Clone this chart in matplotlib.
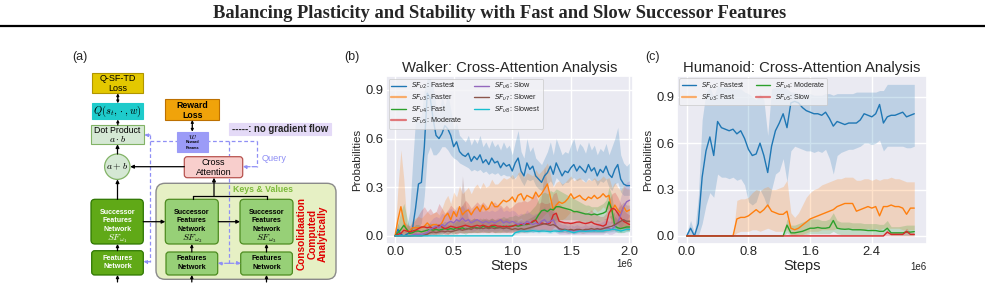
import numpy as np
import matplotlib
matplotlib.use("Agg")
import matplotlib.pyplot as plt
import seaborn as sns
from matplotlib.patches import FancyBboxPatch, Circle
from matplotlib.lines import Line2D

sns.set_theme(style="darkgrid")
plt.rcParams['font.family'] = ['Liberation Sans', 'DejaVu Sans']
plt.rcParams['mathtext.fontset'] = 'dejavusans'

# ---------------- data: Walker ----------------
walker_steps = np.linspace(0, 2.0e6, 81)
walker_labels = [r"$SF_{\upsilon2}$: Fastest", r"$SF_{\upsilon3}$: Faster", r"$SF_{\upsilon4}$: Fast",
                 r"$SF_{\upsilon5}$: Moderate", r"$SF_{\upsilon6}$: Slow", r"$SF_{\upsilon7}$: Slower",
                 r"$SF_{\upsilon8}$: Slowest"]
w_fastest = [0.00,0.04,0.01,0.00,0.01,0.02,0.05,0.17,0.32,0.33,
             0.55,0.88,0.85,0.72,0.62,0.60,0.63,0.68,0.66,0.62,
             0.55,0.58,0.52,0.50,0.49,0.51,0.46,0.49,0.47,0.50,
             0.45,0.47,0.44,0.48,0.45,0.46,0.42,0.45,0.43,0.44,
             0.40,0.45,0.48,0.40,0.37,0.45,0.41,0.43,0.37,0.35,
             0.33,0.37,0.39,0.43,0.38,0.45,0.41,0.37,0.40,0.39,
             0.42,0.44,0.40,0.43,0.41,0.39,0.44,0.40,0.42,0.37,
             0.41,0.39,0.43,0.38,0.36,0.41,0.44,0.35,0.32,0.31,
             0.31]
w_fastest_lo = [0.00,0.00,0.00,0.00,0.00,0.00,0.00,0.01,0.05,0.08,
                0.25,0.50,0.55,0.50,0.50,0.52,0.55,0.55,0.53,0.50,
                0.48,0.47,0.45,0.44,0.43,0.42,0.40,0.41,0.40,0.41,
                0.39,0.40,0.38,0.39,0.38,0.39,0.37,0.38,0.37,0.37,
                0.35,0.36,0.38,0.34,0.31,0.35,0.34,0.35,0.31,0.29,
                0.28,0.30,0.32,0.34,0.31,0.36,0.34,0.31,0.33,0.33,
                0.35,0.36,0.34,0.35,0.35,0.33,0.36,0.34,0.35,0.31,
                0.34,0.33,0.35,0.30,0.28,0.32,0.33,0.27,0.25,0.25,
                0.25]
w_fastest_hi = [0.02,0.08,0.02,0.03,0.05,0.15,0.45,0.72,0.70,0.75,
                0.90,0.97,0.97,0.92,0.80,0.75,0.86,0.80,0.88,0.78,
                0.66,0.70,0.62,0.60,0.58,0.62,0.56,0.60,0.57,0.62,
                0.55,0.58,0.54,0.59,0.55,0.57,0.53,0.58,0.54,0.56,
                0.50,0.58,0.65,0.52,0.48,0.60,0.52,0.55,0.48,0.46,
                0.44,0.48,0.52,0.58,0.50,0.60,0.55,0.50,0.52,0.51,
                0.56,0.60,0.52,0.57,0.55,0.51,0.58,0.53,0.56,0.50,
                0.54,0.52,0.57,0.50,0.55,0.60,0.67,0.50,0.45,0.43,
                0.45]
w_faster = [0.00,0.10,0.18,0.09,0.03,0.03,0.05,0.05,0.05,0.05,
            0.06,0.08,0.06,0.07,0.07,0.06,0.08,0.12,0.14,0.10,
            0.15,0.12,0.18,0.13,0.15,0.16,0.13,0.16,0.18,0.15,
            0.19,0.16,0.17,0.21,0.18,0.18,0.20,0.22,0.21,0.22,
            0.24,0.21,0.25,0.26,0.22,0.25,0.24,0.23,0.27,0.24,
            0.26,0.29,0.32,0.24,0.16,0.19,0.21,0.20,0.21,0.23,
            0.26,0.23,0.24,0.25,0.23,0.22,0.24,0.23,0.25,0.23,
            0.24,0.26,0.24,0.25,0.15,0.19,0.16,0.14,0.18,0.15,
            0.16]
w_faster_lo = [0.00,0.00,0.02,0.00,0.00,0.00,0.01,0.01,0.01,0.01,
               0.01,0.02,0.01,0.02,0.02,0.02,0.02,0.04,0.05,0.03,
               0.05,0.04,0.06,0.04,0.05,0.06,0.04,0.06,0.07,0.05,
               0.07,0.06,0.06,0.08,0.07,0.07,0.08,0.09,0.08,0.09,
               0.10,0.08,0.10,0.11,0.09,0.10,0.10,0.09,0.11,0.10,
               0.11,0.13,0.15,0.10,0.06,0.08,0.10,0.10,0.11,0.13,
               0.15,0.14,0.15,0.16,0.15,0.14,0.16,0.15,0.17,0.15,
               0.16,0.18,0.16,0.17,0.04,0.06,0.04,0.02,0.05,0.03,
               0.04]
w_faster_hi = [0.01,0.30,0.53,0.35,0.08,0.06,0.10,0.11,0.12,0.11,
               0.13,0.15,0.13,0.14,0.15,0.13,0.17,0.22,0.25,0.20,
               0.27,0.24,0.31,0.26,0.28,0.30,0.26,0.30,0.32,0.29,
               0.33,0.30,0.31,0.35,0.32,0.32,0.34,0.36,0.35,0.36,
               0.38,0.35,0.39,0.40,0.36,0.39,0.38,0.37,0.41,0.38,
               0.40,0.42,0.45,0.38,0.30,0.33,0.34,0.32,0.33,0.35,
               0.37,0.34,0.35,0.36,0.34,0.33,0.35,0.34,0.36,0.34,
               0.35,0.37,0.35,0.36,0.30,0.33,0.30,0.28,0.31,0.29,
               0.29]
w_fast = [0.00,0.02,0.04,0.065,0.04,0.015,0.02,0.03,0.03,0.025,
          0.03,0.035,0.04,0.035,0.04,0.035,0.04,0.045,0.04,0.045,
          0.04,0.05,0.045,0.05,0.04,0.045,0.05,0.055,0.05,0.045,
          0.06,0.055,0.05,0.06,0.055,0.05,0.055,0.06,0.055,0.06,
          0.06,0.065,0.06,0.065,0.07,0.07,0.075,0.085,0.10,0.13,
          0.155,0.16,0.15,0.165,0.16,0.18,0.18,0.175,0.17,0.165,
          0.16,0.15,0.15,0.145,0.14,0.135,0.135,0.13,0.135,0.13,
          0.135,0.14,0.15,0.21,0.16,0.06,0.05,0.045,0.05,0.055,
          0.055]
w_fast_lo = [0.00,0.00,0.01,0.02,0.01,0.00,0.00,0.01,0.01,0.01,
             0.01,0.01,0.01,0.01,0.01,0.01,0.01,0.02,0.01,0.02,
             0.01,0.02,0.02,0.02,0.01,0.02,0.02,0.02,0.02,0.02,
             0.03,0.02,0.02,0.03,0.02,0.02,0.02,0.03,0.02,0.03,
             0.03,0.03,0.03,0.03,0.04,0.04,0.04,0.05,0.06,0.07,
             0.08,0.09,0.08,0.09,0.09,0.10,0.10,0.10,0.10,0.10,
             0.10,0.10,0.10,0.09,0.09,0.09,0.09,0.09,0.09,0.09,
             0.09,0.10,0.10,0.12,0.10,0.03,0.02,0.02,0.02,0.03,
             0.03]
w_fast_hi = [0.00,0.08,0.15,0.20,0.12,0.05,0.05,0.07,0.07,0.06,
             0.07,0.07,0.08,0.07,0.08,0.07,0.08,0.09,0.08,0.09,
             0.08,0.10,0.09,0.10,0.08,0.09,0.10,0.11,0.10,0.09,
             0.11,0.10,0.10,0.11,0.10,0.10,0.11,0.12,0.11,0.12,
             0.12,0.13,0.12,0.13,0.14,0.14,0.15,0.17,0.19,0.23,
             0.26,0.27,0.26,0.28,0.27,0.29,0.28,0.27,0.26,0.25,
             0.24,0.23,0.22,0.21,0.20,0.19,0.19,0.18,0.18,0.18,
             0.19,0.20,0.22,0.30,0.25,0.12,0.10,0.09,0.10,0.10,
             0.10]
w_moderate = [0.00,0.01,0.015,0.035,0.03,0.025,0.03,0.035,0.045,0.055,
              0.055,0.05,0.055,0.045,0.05,0.066,0.055,0.045,0.05,0.06,
              0.055,0.05,0.055,0.06,0.066,0.06,0.055,0.06,0.065,0.06,
              0.066,0.06,0.055,0.065,0.066,0.06,0.06,0.055,0.06,0.055,
              0.06,0.066,0.07,0.07,0.076,0.075,0.076,0.09,0.097,0.07,
              0.08,0.075,0.076,0.08,0.13,0.14,0.09,0.085,0.08,0.08,
              0.076,0.08,0.085,0.086,0.08,0.076,0.08,0.086,0.075,0.07,
              0.066,0.06,0.07,0.14,0.17,0.165,0.14,0.11,0.09,0.08,
              0.07]
w_moderate_lo = [0.00,0.00,0.00,0.01,0.01,0.01,0.01,0.01,0.01,0.02,
                 0.02,0.01,0.02,0.01,0.01,0.02,0.02,0.01,0.01,0.02,
                 0.02,0.01,0.02,0.02,0.02,0.02,0.02,0.02,0.02,0.02,
                 0.02,0.02,0.02,0.02,0.02,0.02,0.02,0.02,0.02,0.02,
                 0.02,0.03,0.03,0.03,0.03,0.03,0.03,0.04,0.04,0.03,
                 0.03,0.03,0.03,0.03,0.05,0.06,0.04,0.04,0.04,0.04,
                 0.04,0.04,0.04,0.04,0.04,0.04,0.04,0.04,0.04,0.03,
                 0.03,0.03,0.03,0.06,0.08,0.08,0.07,0.05,0.04,0.04,
                 0.03]
w_moderate_hi = [0.00,0.03,0.05,0.09,0.07,0.06,0.08,0.10,0.13,0.16,
                 0.18,0.15,0.17,0.14,0.15,0.20,0.17,0.14,0.16,0.19,
                 0.17,0.15,0.17,0.19,0.22,0.20,0.17,0.19,0.21,0.19,
                 0.21,0.19,0.17,0.20,0.21,0.19,0.19,0.17,0.19,0.17,
                 0.18,0.20,0.21,0.21,0.22,0.21,0.22,0.25,0.26,0.20,
                 0.21,0.20,0.20,0.21,0.26,0.27,0.20,0.18,0.17,0.16,
                 0.15,0.15,0.16,0.16,0.15,0.14,0.15,0.16,0.14,0.13,
                 0.12,0.12,0.14,0.22,0.26,0.27,0.24,0.20,0.16,0.14,
                 0.13]
w_slow = [0.00,0.00,0.00,0.00,0.00,0.00,0.005,0.01,0.01,0.01,
          0.015,0.02,0.04,0.05,0.06,0.05,0.07,0.06,0.08,0.09,
          0.08,0.10,0.09,0.11,0.09,0.10,0.08,0.09,0.10,0.09,
          0.08,0.09,0.08,0.09,0.08,0.09,0.10,0.08,0.09,0.08,
          0.09,0.08,0.07,0.08,0.07,0.09,0.08,0.07,0.08,0.07,
          0.09,0.10,0.08,0.09,0.10,0.06,0.04,0.03,0.035,0.03,
          0.035,0.03,0.035,0.03,0.03,0.035,0.03,0.035,0.03,0.04,
          0.04,0.045,0.05,0.045,0.04,0.06,0.08,0.13,0.18,0.21,
          0.22]
w_slow_lo = [0.00,0.00,0.00,0.00,0.00,0.00,0.00,0.00,0.00,0.00,
             0.00,0.00,0.01,0.01,0.02,0.01,0.02,0.02,0.03,0.03,
             0.03,0.04,0.03,0.04,0.03,0.04,0.03,0.03,0.04,0.03,
             0.03,0.03,0.03,0.03,0.03,0.03,0.04,0.03,0.03,0.03,
             0.03,0.03,0.02,0.03,0.02,0.03,0.03,0.02,0.03,0.02,
             0.03,0.04,0.03,0.03,0.04,0.02,0.01,0.01,0.01,0.01,
             0.01,0.01,0.01,0.01,0.01,0.01,0.01,0.01,0.01,0.01,
             0.01,0.01,0.02,0.01,0.01,0.02,0.03,0.05,0.08,0.10,
             0.12]
w_slow_hi = [0.00,0.00,0.00,0.00,0.00,0.01,0.02,0.03,0.03,0.03,
             0.04,0.06,0.09,0.11,0.12,0.11,0.14,0.13,0.15,0.17,
             0.15,0.18,0.17,0.19,0.16,0.18,0.15,0.16,0.18,0.16,
             0.15,0.16,0.15,0.16,0.15,0.16,0.18,0.15,0.16,0.15,
             0.16,0.15,0.13,0.14,0.13,0.16,0.14,0.13,0.14,0.13,
             0.16,0.18,0.15,0.16,0.18,0.12,0.08,0.07,0.07,0.06,
             0.07,0.06,0.07,0.06,0.06,0.07,0.06,0.07,0.06,0.08,
             0.08,0.09,0.10,0.09,0.09,0.12,0.16,0.24,0.30,0.33,
             0.34]
w_slower = [0.00,0.00,0.00,0.00,0.00,0.00,0.00,0.00,0.00,0.00,
            0.005,0.01,0.02,0.025,0.02,0.025,0.03,0.025,0.03,0.025,
            0.03,0.035,0.04,0.035,0.04,0.045,0.04,0.05,0.045,0.05,
            0.045,0.05,0.045,0.05,0.045,0.05,0.05,0.045,0.05,0.045,
            0.04,0.045,0.04,0.045,0.04,0.045,0.05,0.055,0.06,0.065,
            0.07,0.075,0.07,0.065,0.07,0.06,0.045,0.04,0.04,0.035,
            0.04,0.035,0.04,0.04,0.035,0.04,0.04,0.045,0.04,0.045,
            0.04,0.045,0.05,0.055,0.06,0.07,0.08,0.09,0.10,0.09,
            0.09]
w_slower_lo = [0.00,0.00,0.00,0.00,0.00,0.00,0.00,0.00,0.00,0.00,
               0.00,0.00,0.005,0.01,0.005,0.01,0.01,0.01,0.01,0.01,
               0.01,0.015,0.02,0.015,0.02,0.02,0.02,0.025,0.02,0.025,
               0.02,0.025,0.02,0.025,0.02,0.025,0.025,0.02,0.025,0.02,
               0.02,0.02,0.02,0.02,0.02,0.02,0.025,0.03,0.03,0.035,
               0.035,0.04,0.035,0.03,0.035,0.03,0.02,0.02,0.02,0.015,
               0.02,0.015,0.02,0.02,0.015,0.02,0.02,0.02,0.02,0.02,
               0.02,0.02,0.025,0.03,0.03,0.035,0.04,0.045,0.05,0.045,
               0.045]
w_slower_hi = [0.00,0.00,0.00,0.00,0.00,0.00,0.00,0.00,0.01,0.01,
               0.02,0.03,0.05,0.06,0.05,0.06,0.07,0.06,0.07,0.06,
               0.08,0.09,0.12,0.37,0.20,0.11,0.10,0.11,0.10,0.11,
               0.10,0.11,0.10,0.11,0.10,0.11,0.11,0.10,0.11,0.10,
               0.09,0.10,0.09,0.10,0.09,0.10,0.11,0.12,0.13,0.15,
               0.25,0.43,0.30,0.16,0.15,0.13,0.10,0.09,0.09,0.08,
               0.09,0.08,0.09,0.09,0.08,0.09,0.09,0.10,0.09,0.10,
               0.09,0.10,0.11,0.12,0.13,0.15,0.17,0.19,0.21,0.19,
               0.19]
w_slowest = [0.0]*41 + [0.02,0.025,0.03,0.03,0.028,0.03,0.032,0.03,0.028,0.03,
                        0.03,0.028,0.025,0.03,0.03,0.028,0.03,0.035,0.03,0.025,
                        0.02,0.025,0.03,0.03,0.028,0.03,0.03,0.032,0.03,0.03,
                        0.03,0.035,0.035,0.04,0.04,0.035,0.03,0.035,0.04,0.04]
w_slowest_lo = [0.0]*41 + [0.01,0.015,0.02,0.02,0.018,0.02,0.02,0.02,0.018,0.02,
                           0.02,0.018,0.015,0.02,0.02,0.018,0.02,0.022,0.02,0.015,
                           0.012,0.015,0.02,0.02,0.018,0.02,0.02,0.02,0.02,0.02,
                           0.02,0.022,0.022,0.025,0.025,0.022,0.02,0.022,0.025,0.025]
w_slowest_hi = [0.0]*41 + [0.03,0.04,0.045,0.045,0.04,0.045,0.05,0.045,0.04,0.045,
                           0.045,0.04,0.04,0.045,0.045,0.04,0.045,0.05,0.045,0.04,
                           0.03,0.04,0.045,0.045,0.04,0.045,0.045,0.05,0.045,0.045,
                           0.045,0.05,0.05,0.06,0.06,0.05,0.045,0.05,0.06,0.06]

# ---------------- data: Humanoid ----------------
hum_steps = np.linspace(0, 2.95e6, 60)
hum_labels = [r"$SF_{\upsilon2}$: Fastest", r"$SF_{\upsilon3}$: Fast",
              r"$SF_{\upsilon4}$: Moderate", r"$SF_{\upsilon5}$: Slow"]
h_fastest = [0.00,0.05,0.00,0.08,0.38,0.55,0.64,0.52,0.74,0.70,
             0.69,0.68,0.69,0.66,0.68,0.63,0.56,0.52,0.53,0.60,
             0.52,0.41,0.58,0.68,0.73,0.79,0.70,0.86,0.87,0.86,
             0.83,0.81,0.80,0.79,0.79,0.78,0.80,0.76,0.71,0.74,
             0.73,0.72,0.73,0.73,0.73,0.75,0.79,0.78,0.77,0.79,
             0.85,0.73,0.77,0.78,0.78,0.79,0.80,0.77,0.78,0.79]
h_fastest_lo = [0.00,0.00,0.00,0.00,0.08,0.20,0.28,0.25,0.40,0.38,
                0.38,0.37,0.38,0.36,0.37,0.33,0.22,0.20,0.22,0.30,
                0.25,0.18,0.30,0.40,0.42,0.50,0.35,0.55,0.58,0.57,
                0.56,0.55,0.55,0.54,0.55,0.54,0.56,0.50,0.40,0.52,
                0.54,0.55,0.56,0.56,0.57,0.58,0.60,0.60,0.59,0.60,
                0.62,0.55,0.58,0.58,0.58,0.58,0.58,0.57,0.57,0.58]
h_fastest_hi = [0.02,0.10,0.02,0.25,0.75,0.93,0.96,0.90,0.97,0.96,
                0.96,0.96,0.95,0.95,0.95,0.93,0.92,0.90,0.88,0.92,
                0.88,0.65,0.95,0.96,0.96,0.96,0.95,0.93,0.93,0.92,
                0.92,0.92,0.92,0.91,0.91,0.91,0.92,0.92,0.91,0.92,
                0.92,0.92,0.92,0.92,0.93,0.93,0.93,0.93,0.93,0.93,
                0.94,0.94,0.98,0.98,0.98,0.98,0.98,0.98,0.98,0.98]
h_fast = [0.0]*13 + [0.11,0.12,0.12,0.13,0.15,0.17,0.15,0.17,0.20,0.16,
                     0.15,0.14,0.14,0.16,0.05,0.04,0.05,0.07,0.09,0.11,
                     0.12,0.13,0.14,0.15,0.16,0.17,0.19,0.20,0.21,0.21,
                     0.21,0.16,0.17,0.18,0.19,0.18,0.19,0.13,0.19,0.19,
                     0.20,0.19,0.19,0.18,0.14,0.18,0.18]
h_fast_lo = [0.0]*13 + [0.02,0.03,0.03,0.03,0.04,0.04,0.03,0.04,0.05,0.04,
                        0.03,0.03,0.03,0.04,0.01,0.01,0.01,0.01,0.02,0.03,
                        0.03,0.03,0.04,0.04,0.04,0.04,0.05,0.05,0.05,0.05,
                        0.05,0.04,0.04,0.04,0.05,0.04,0.05,0.04,0.05,0.05,
                        0.05,0.05,0.05,0.04,0.04,0.04,0.04]
h_fast_hi = [0.0]*13 + [0.23,0.24,0.24,0.25,0.28,0.30,0.29,0.31,0.32,0.30,
                        0.30,0.31,0.32,0.36,0.15,0.12,0.15,0.20,0.25,0.28,
                        0.30,0.31,0.33,0.34,0.35,0.36,0.37,0.37,0.38,0.38,
                        0.38,0.36,0.36,0.37,0.37,0.36,0.37,0.36,0.37,0.37,
                        0.38,0.37,0.37,0.36,0.35,0.35,0.35]
h_moderate = [0.0]*26 + [0.07,0.02,0.02,0.025,0.03,0.04,0.05,0.05,0.055,0.05,
                         0.05,0.055,0.10,0.05,0.045,0.043,0.045,0.04,0.04,0.04,
                         0.038,0.035,0.035,0.035,0.03,0.03,0.05,0.02,0.02,0.02,
                         0.02,0.025,0.025,0.028]
h_moderate_lo = [0.0]*26 + [0.02,0.005,0.005,0.01,0.01,0.01,0.015,0.015,0.015,0.015,
                            0.015,0.015,0.03,0.015,0.01,0.01,0.01,0.01,0.01,0.01,
                            0.01,0.01,0.01,0.01,0.01,0.01,0.02,0.005,0.005,0.005,
                            0.005,0.005,0.005,0.005]
h_moderate_hi = [0.0]*26 + [0.11,0.07,0.07,0.08,0.09,0.10,0.11,0.11,0.11,0.10,
                            0.10,0.11,0.15,0.10,0.09,0.09,0.09,0.085,0.085,0.085,
                            0.08,0.08,0.08,0.08,0.075,0.075,0.10,0.06,0.06,0.06,
                            0.065,0.07,0.07,0.07]
h_slow = [0.0]*52 + [0.025,0.01,0.01,0.01,0.01,0.03,0.01,0.01]
h_slow_lo = [0.0]*60
h_slow_hi = [0.0]*26 + [0.01]*26 + [0.045,0.025,0.025,0.025,0.025,0.05,0.025,0.025]

colors = ['#1f77b4', '#ff7f0e', '#2ca02c', '#d62728', '#9467bd', '#8c564b', '#17becf']

# ---------------- figure ----------------
W, H = 985, 288
fig = plt.figure(figsize=(W / 100, H / 100), dpi=100)
fig.patch.set_facecolor('white')

def ax_rect(x0, y0, x1, y1):
    return [x0 / W, 1 - y1 / H, (x1 - x0) / W, (y1 - y0) / H]

# Title
fig.text(500 / W, 1 - 14 / H, "Balancing Plasticity and Stability with Fast and Slow Successor Features",
         ha='center', va='center', family=['Liberation Serif', 'DejaVu Serif'], weight='bold', fontsize=13.3)

# Diagram axes (pixel coords)
ad = fig.add_axes([0, 0, 1, 1])
ad.set_xlim(0, W)
ad.set_ylim(H, 0)
ad.axis('off')
ad.set_zorder(0)
ad.plot([0, W], [25.5, 25.5], color='black', lw=1.6)

def box(x0, y0, x1, y1, fc, ec, lw=0.8, r=0.0, z=2):
    p = FancyBboxPatch((x0, y0), x1 - x0, y1 - y0,
                       boxstyle=f"round,pad=0,rounding_size={r}" if r > 0 else "square,pad=0",
                       fc=fc, ec=ec, lw=lw, zorder=z)
    ad.add_patch(p)

def txt(x, y, s, size, color='black', weight='normal', z=5, **kw):
    ad.text(x, y, s, fontsize=size, color=color, weight=weight, ha='center', va='center',
            zorder=z, math_fontfamily='cm', **kw)

def arrow(p0, p1, style='-|>', color='black', lw=0.9, ls='-', ms=5, z=4):
    ad.annotate('', xy=p1, xytext=p0,
                arrowprops=dict(arrowstyle=style, color=color, lw=lw, linestyle=ls,
                                mutation_scale=ms, shrinkA=0, shrinkB=0), zorder=z)

lav = '#8f8ff5'

# Container
box(156, 183.3, 336, 279.3, '#e6f0c4', '#8a8a8a', lw=1.0, r=9, z=1)

# Dashed lavender lines
ad.plot([150, 150], [135, 261.7], color=lav, lw=0.9, ls=(0, (3, 2)), zorder=1.5)
ad.plot([150, 256.7], [140.5, 140.5], color=lav, lw=0.9, ls=(0, (3, 2)), zorder=1.5)
ad.plot([256.7, 256.7], [140.5, 166.7], color=lav, lw=0.9, ls=(0, (3, 2)), zorder=1.5)
ad.plot([229.3, 229.3], [140.5, 263.3], color=lav, lw=0.9, ls=(0, (3, 2)), zorder=1.5)
arrow((150, 135), (144.3, 135), color=lav, ls='--', ms=5)
arrow((256.7, 166.7), (242.7, 166.7), color=lav, ls='--', ms=5)
arrow((150, 261.7), (143.3, 261.7), color=lav, ls='--', ms=5)
arrow((229.3, 263.3), (217.7, 263.3), color=lav, ls='--', ms=5)
arrow((229.3, 263.3), (241, 263.3), color=lav, ls='--', ms=5)

# Left column
box(92.3, 73.3, 143.3, 93.3, '#e3c800', '#b09500')
txt(117.8, 78.5, "Q-SF-TD", 6.5)
txt(117.8, 88.3, "Loss", 6.5)
arrow((117.8, 98), (117.8, 93.3), ms=3.5)
arrow((117.8, 98), (117.8, 103.3), ms=3.5)
box(91.7, 103.3, 143.3, 119, '#1ecbcb', '#1ecbcb')
txt(117.5, 111, r"$Q(s_t, \cdot, w)$", 7.5)
arrow((117.8, 125), (117.8, 119.5), ms=3.5)
box(91, 125, 144.3, 144.3, '#d5e8d4', '#82b366')
txt(117.6, 130.2, "Dot Product", 6.3)
txt(117.6, 139.2, r"$a \cdot b$", 7)
arrow((117.5, 154), (117.5, 144.3), ms=5)
ad.add_patch(Circle((117.3, 166.7), 12.7, fc='#d5e8d4', ec='#82b366', lw=0.9, zorder=2))
txt(117.3, 166.7, r"$a + b$", 7)
arrow((117.5, 199.3), (117.5, 179.4), ms=5)
box(91, 199.3, 143.3, 244, '#60a917', '#2d7600', lw=0.9, r=4)
for yy, s in zip([212.7, 220.7, 229.3], ["Successor", "Features", "Network"]):
    txt(117.2, yy, s, 5.1, color='white', weight='bold')
txt(117.2, 238.3, r"$SF_{\omega_1}$", 7, color='white')
arrow((117.5, 250.7), (117.5, 244), ms=4)
box(91.7, 250.7, 143.3, 275, '#60a917', '#2d7600', lw=0.9, r=3)
txt(117.5, 258.3, "Features", 5.2, color='white', weight='bold')
txt(117.5, 266.7, "Network", 5.2, color='white', weight='bold')
arrow((117.5, 282), (117.5, 275), ms=4)

# Reward loss and w
box(165.3, 99.3, 219.3, 120, '#f0a30a', '#bd7000')
txt(192.3, 105, "Reward", 6.3, weight='bold')
txt(192.3, 116, "Loss", 6.3, weight='bold')
arrow((192.3, 126), (192.3, 120), ms=3.5)
arrow((192.3, 126), (192.3, 131.7), ms=3.5)
box(176.7, 131.7, 208.3, 151.7, '#9b9bf7', '#9b9bf7', z=3)
txt(192.5, 135.8, r"$w$", 7, z=6)
txt(192.5, 142.2, "Reward", 2.7, weight='bold', z=6)
txt(192.5, 148.2, "Params", 2.7, weight='bold', z=6)

# note box
box(229.3, 122.7, 330.7, 135, '#e4daf7', '#e4daf7')
ad.text(231.5, 128.9, "-----: no gradient flow", fontsize=6.9, weight='bold', ha='left', va='center', zorder=5)

# Cross attention
box(184.3, 156.7, 242.7, 177.7, '#f8cecc', '#b85450', lw=0.9, r=3, z=3)
txt(213.5, 162.6, "Cross", 6.5, z=6)
txt(213.5, 172.4, "Attention", 6.5, z=6)
arrow((184.3, 166.7), (130.2, 166.7), ms=5)
txt(274, 158.3, "Query", 6.6, color=lav)

# Keys & values
txt(263.3, 189.2, "Keys & Values", 6.3, color='#7cba3b', weight='bold')
ad.plot([192.7, 266.7], [196, 196], color='black', lw=0.9, zorder=4)
ad.plot([192.7, 192.7], [196, 199.3], color='black', lw=0.9, zorder=4)
ad.plot([266.7, 266.7], [196, 199.3], color='black', lw=0.9, zorder=4)
arrow((214, 196), (214, 177.7), ms=5)

for x0 in (165.3, 240.0):
    xc = x0 + 26.5
    box(x0, 199.3, x0 + 53, 244, '#97d077', '#4d8c20', lw=0.9, r=4)
    for yy, s in zip([212.7, 220.7, 229.3], ["Successor", "Features", "Network"]):
        txt(xc, yy, s, 5.1, weight='bold')
    box(x0 + 0.7, 252, x0 + 52.4, 275, '#97d077', '#4d8c20', lw=0.9, r=3)
    txt(xc, 258.6, "Features", 5.2, weight='bold')
    txt(xc, 267.2, "Network", 5.2, weight='bold')
    arrow((xc, 252), (xc, 244), ms=4)
    arrow((xc, 282), (xc, 275), ms=4)
txt(191.8, 238.3, r"$SF_{\omega_2}$", 7)
txt(266.5, 238.3, r"$SF_{\omega_3}$", 7)
arrow((143.3, 221.7), (165.3, 221.7), ms=5)
arrow((218.3, 221.7), (240, 221.7), ms=5)

ad.text(312.5, 234, "Consolidaation\nComputed\nAnalytically", rotation=90, fontsize=7.3,
        color='#e00000', weight='bold', ha='center', va='center', multialignment='center',
        linespacing=1.05, zorder=5)

# panel letters
fig.text(80 / W, 1 - 57 / H, "(a)", fontsize=9, ha='center', va='center')
fig.text(352 / W, 1 - 57 / H, "(b)", fontsize=9, ha='center', va='center')
fig.text(652 / W, 1 - 57 / H, "(c)", fontsize=9, ha='center', va='center')

# ---------------- plot helper ----------------
def draw_panel(ax, steps, series, labels, cols, title, xlim, ylim, xticks, legend_styles, ncol, lsize, off_y):
    for (m, lo, hi), c in zip(series, cols):
        ax.fill_between(steps, lo, hi, color=c, alpha=0.22, lw=0)
    for (m, lo, hi), c in zip(series, cols):
        ax.plot(steps, m, color=c, lw=1.0)
    ax.set_xlim(*xlim)
    ax.set_ylim(*ylim)
    ax.set_yticks([0.0, 0.3, 0.6, 0.9])
    ax.set_xticks(xticks)
    ax.tick_params(axis='both', labelsize=9.4, pad=1.5, length=0)
    ax.set_title(title, fontsize=10.7, pad=3)
    ax.set_xlabel("Steps", fontsize=10.5, labelpad=1.0)
    ax.set_ylabel("Probabilities", fontsize=8.2, labelpad=2.5)
    ax.xaxis.get_offset_text().set_visible(False)
    ax.text(1.0, off_y, "1e6", transform=ax.transAxes, ha='right', va='center', fontsize=7)
    handles = [Line2D([], [], color=c, lw=lw, alpha=a) for c, (lw, a) in zip(cols, legend_styles)]
    leg = ax.legend(handles, labels, loc='upper left', ncol=ncol, fontsize=lsize, frameon=True,
                    borderaxespad=0.35, handlelength=2.0, columnspacing=1.6, labelspacing=0.2,
                    borderpad=0.35, facecolor='#f2f2f6', edgecolor='#c8c8c8', framealpha=0.8)
    leg.get_frame().set_linewidth(0.6)

ab = fig.add_axes(ax_rect(386, 76, 633, 244))
walker_series = [(w_fastest, w_fastest_lo, w_fastest_hi), (w_faster, w_faster_lo, w_faster_hi),
                 (w_fast, w_fast_lo, w_fast_hi), (w_moderate, w_moderate_lo, w_moderate_hi),
                 (w_slow, w_slow_lo, w_slow_hi), (w_slower, w_slower_lo, w_slower_hi),
                 (w_slowest, w_slowest_lo, w_slowest_hi)]
draw_panel(ab, walker_steps, walker_series, walker_labels, colors, "Walker: Cross-Attention Analysis",
           (-0.077e6, 2.03e6), (-0.05, 0.986), [0, 0.5e6, 1.0e6, 1.5e6, 2.0e6],
           [(1, 1), (1.6, 0.6), (1, 1), (1.6, 0.6), (1, 1), (1, 1), (1, 1)], 2, 5.2, -0.12)

ac = fig.add_axes(ax_rect(677, 76, 927, 244))
hum_series = [(h_fastest, h_fastest_lo, h_fastest_hi), (h_fast, h_fast_lo, h_fast_hi),
              (h_moderate, h_moderate_lo, h_moderate_hi), (h_slow, h_slow_lo, h_slow_hi)]
draw_panel(ac, hum_steps, hum_series, hum_labels, colors[:4], "Humanoid: Cross-Attention Analysis",
           (-0.126e6, 3.115e6), (-0.052, 1.034), [0, 0.8e6, 1.6e6, 2.4e6],
           [(1, 1), (1.6, 0.6), (1, 1), (1.6, 0.6)], 2, 5.0, -0.135)

fig.savefig("out.png", dpi=100)
